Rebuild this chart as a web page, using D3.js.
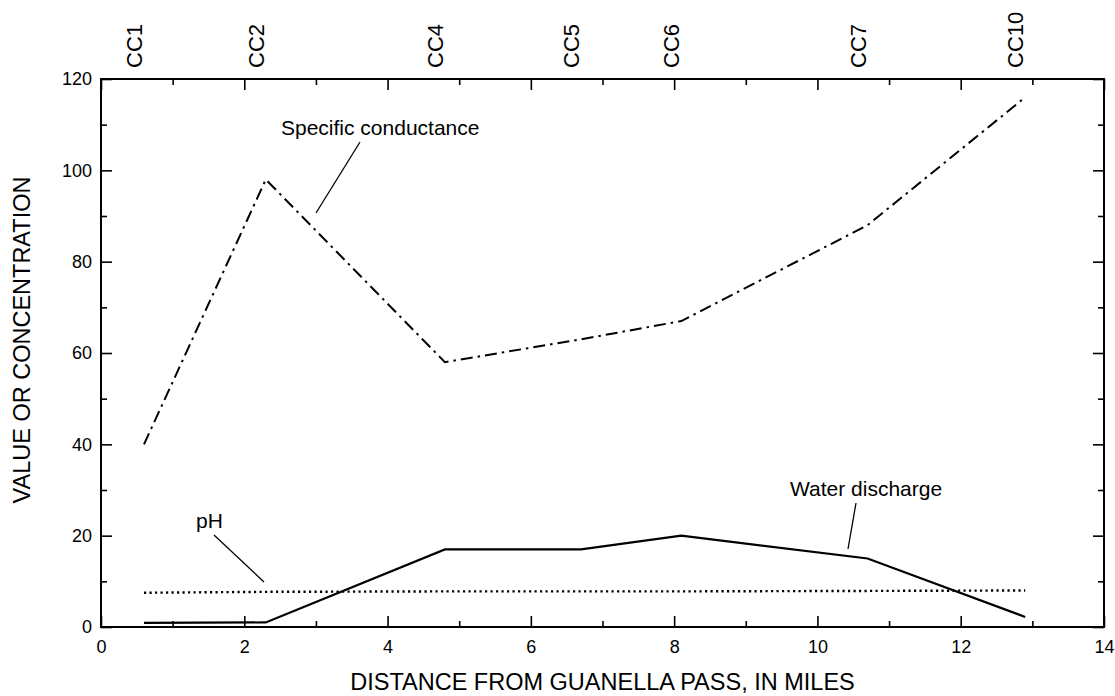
<!DOCTYPE html>
<html>
<head>
<meta charset="utf-8">
<script src="https://cdn.jsdelivr.net/npm/d3@7"></script>
<style>
  body { margin: 0; background: #fff; }
  text { font-family: "Liberation Sans", Arial, Helvetica, sans-serif; fill: #000; }
</style>
</head>
<body>
<svg id="chart" width="1115" height="696"></svg>
<script>
// sampling stations along the creek, miles below Guanella Pass
const stations = ["CC1", "CC2", "CC4", "CC5", "CC6", "CC7", "CC10"];
const distance = [0.6, 2.3, 4.8, 6.7, 8.1, 10.7, 12.9];
const conductance = [40, 98, 58, 63, 67, 88, 116];
const discharge = [0.9, 1.0, 17, 17, 20, 15, 2.2];
const ph = [7.5, 7.7, 7.8, 7.8, 7.8, 7.9, 8.0];

const xMajor = [0, 2, 4, 6, 8, 10, 12, 14];
const xMinor = [1, 3, 5, 7, 9, 11, 13];
const yMajor = [0, 20, 40, 60, 80, 100, 120];
const yMinor = [10, 30, 50, 70, 90, 110];

const plotLeft = 101, plotRight = 1104, plotTop = 79, plotBottom = 627;

const svg = d3.select("#chart");

const xScale = d3.scaleLinear().domain([0, 14]).range([plotLeft, plotRight]);
const yScale = d3.scaleLinear().domain([0, 120]).range([plotBottom, plotTop]);

function axisStyle(g) {
  g.select(".domain").remove();
  g.selectAll(".tick line").attr("stroke", "#000").attr("stroke-width", 1.6);
  g.selectAll(".tick text").attr("font-size", 18).attr("fill", "#000");
}

// bottom axis with labels, ticks point into the plot
svg.append("g")
  .attr("transform", `translate(0,${plotBottom})`)
  .call(d3.axisBottom(xScale).tickValues(xMajor).tickSizeInner(-11).tickSizeOuter(0).tickPadding(13))
  .call(axisStyle);
svg.append("g")
  .attr("transform", `translate(0,${plotBottom})`)
  .call(d3.axisBottom(xScale).tickValues(xMinor).tickSizeInner(-6).tickSizeOuter(0).tickFormat(""))
  .call(axisStyle);

// top axis, ticks only
svg.append("g")
  .attr("transform", `translate(0,${plotTop})`)
  .call(d3.axisTop(xScale).tickValues(xMajor).tickSizeInner(-11).tickSizeOuter(0).tickFormat(""))
  .call(axisStyle);
svg.append("g")
  .attr("transform", `translate(0,${plotTop})`)
  .call(d3.axisTop(xScale).tickValues(xMinor).tickSizeInner(-6).tickSizeOuter(0).tickFormat(""))
  .call(axisStyle);

// left axis with labels
svg.append("g")
  .attr("transform", `translate(${plotLeft},0)`)
  .call(d3.axisLeft(yScale).tickValues(yMajor).tickSizeInner(-11).tickSizeOuter(0).tickPadding(9))
  .call(axisStyle);
svg.append("g")
  .attr("transform", `translate(${plotLeft},0)`)
  .call(d3.axisLeft(yScale).tickValues(yMinor).tickSizeInner(-6).tickSizeOuter(0).tickFormat(""))
  .call(axisStyle);

// right axis, ticks only
svg.append("g")
  .attr("transform", `translate(${plotRight},0)`)
  .call(d3.axisRight(yScale).tickValues(yMajor).tickSizeInner(-11).tickSizeOuter(0).tickFormat(""))
  .call(axisStyle);
svg.append("g")
  .attr("transform", `translate(${plotRight},0)`)
  .call(d3.axisRight(yScale).tickValues(yMinor).tickSizeInner(-6).tickSizeOuter(0).tickFormat(""))
  .call(axisStyle);

// plot frame
svg.append("rect")
  .attr("x", plotLeft).attr("y", plotTop)
  .attr("width", plotRight - plotLeft).attr("height", plotBottom - plotTop)
  .attr("fill", "none").attr("stroke", "#000").attr("stroke-width", 2);

// station names above the frame
svg.append("g").selectAll("text")
  .data(stations)
  .enter()
  .append("text")
  .attr("transform", (d, i) => `translate(${xScale(distance[i]) - 2},68) rotate(-90)`)
  .attr("font-size", 22)
  .text(d => d);

const line = d3.line().x((d, i) => xScale(distance[i])).y(d => yScale(d));

svg.append("path")
  .datum(conductance)
  .attr("d", line)
  .attr("fill", "none").attr("stroke", "#000").attr("stroke-width", 2)
  .attr("stroke-dasharray", "12,5,2.5,5");

svg.append("path")
  .datum(discharge)
  .attr("d", line)
  .attr("fill", "none").attr("stroke", "#000").attr("stroke-width", 2.2);

svg.append("path")
  .datum(ph)
  .attr("d", line)
  .attr("fill", "none").attr("stroke", "#000").attr("stroke-width", 2.4)
  .attr("stroke-dasharray", "2.2,3.3");

// series labels with leader lines
const labels = [
  { text: "Specific conductance", x: 281, y: 135, from: [360, 142], to: [316, 213] },
  { text: "pH", x: 196, y: 528, from: [214, 535], to: [264, 582] },
  { text: "Water discharge", x: 790, y: 496, from: [856, 503], to: [848, 549] }
];

labels.forEach(l => {
  svg.append("text")
    .attr("x", l.x).attr("y", l.y)
    .attr("font-size", 21)
    .text(l.text);
  svg.append("line")
    .attr("x1", l.from[0]).attr("y1", l.from[1])
    .attr("x2", l.to[0]).attr("y2", l.to[1])
    .attr("stroke", "#000").attr("stroke-width", 1.3);
});

// axis titles
svg.append("text")
  .attr("x", (plotLeft + plotRight) / 2).attr("y", 690)
  .attr("text-anchor", "middle")
  .attr("font-size", 23.5)
  .text("DISTANCE FROM GUANELLA PASS, IN MILES");

svg.append("text")
  .attr("transform", "translate(30,340) rotate(-90)")
  .attr("text-anchor", "middle")
  .attr("font-size", 23.5)
  .text("VALUE OR CONCENTRATION");
</script>
</body>
</html>
